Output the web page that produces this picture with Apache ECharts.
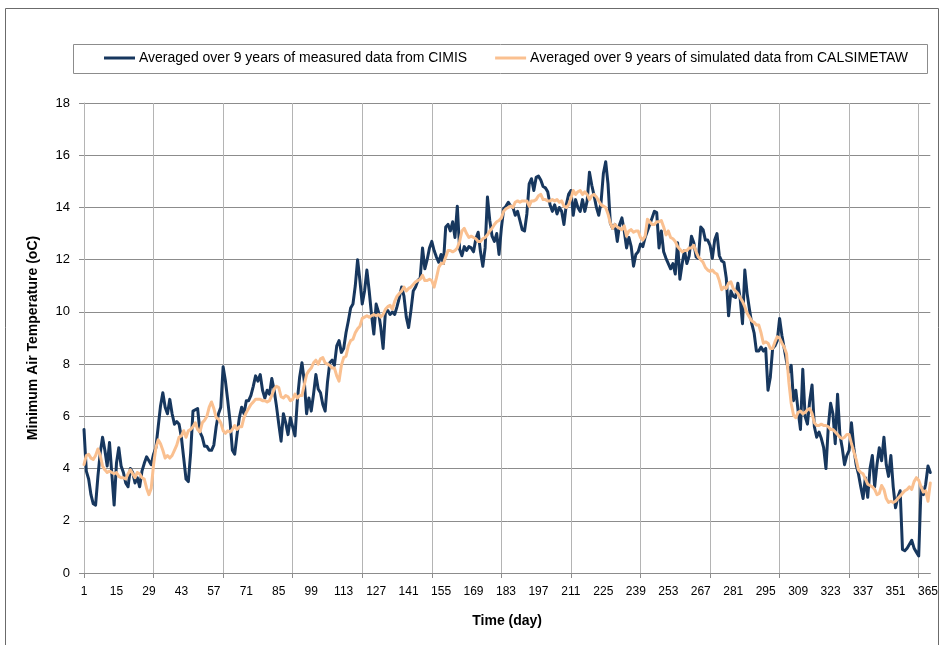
<!DOCTYPE html>
<html>
<head>
<meta charset="utf-8">
<script src="https://cdn.jsdelivr.net/npm/echarts@6/dist/echarts.min.js"></script>
<style>
  html, body { margin: 0; padding: 0; background: #fff; }
  #chart { width: 941px; height: 645px; }
</style>
</head>
<body>
<div id="chart"></div>
<script>
// colours
const NAVY = '#17375e';
const PEACH = '#fac090';
const H_GRID = '#8c8c8c';
const V_GRID = '#b4b4b4';
const SANS = "'Liberation Sans', Arial, sans-serif";

// day of year, 366 points (labels every 14 days up to 365)
const days = Array.from({ length: 366 }, (_, i) => String(i + 1));

// measured (CIMIS) in 60-day blocks
const cimis1 = [5.5,3.9,3.6,3.0,2.65,2.6,3.7,4.6,5.2,4.7, 4.1,5.0,3.8,2.6,4.2,4.8,4.1,3.85,3.45,3.3,
  4.0,3.85,3.45,3.65,3.3,3.9,4.2,4.45,4.3,4.15, 4.55,4.8,5.6,6.4,6.9,6.35,6.1,6.65,6.1,5.7,
  5.8,5.7,5.2,4.4,3.6,3.5,4.6,6.2,6.25,6.3, 5.4,5.2,4.85,4.85,4.7,4.7,4.9,5.6,6.1,6.35];
const cimis2 = [7.9,7.35,6.6,5.8,4.7,4.55,5.3,5.95,6.35,6.1, 6.6,6.6,6.8,7.15,7.55,7.35,7.6,7.0,6.7,7.0,
  6.85,7.45,7.0,6.4,5.7,5.05,6.1,5.75,5.3,5.95, 5.6,5.25,6.6,7.5,8.05,7.35,6.1,6.7,6.2,6.85,
  7.6,7.05,6.9,6.45,6.2,7.3,8.05,8.15,7.95,8.7, 8.9,8.45,8.6,9.2,9.65,10.15,10.3,11.0,12.0,11.2];
const cimis3 = [10.3,10.8,11.6,10.8,9.9,9.15,10.3,10.0,9.4,8.6, 10.0,10.05,9.9,10.0,9.9,10.2,10.55,10.95,10.6,9.8,
  9.4,10.05,10.8,10.95,11.2,11.3,12.45,11.65,12.0,12.45, 12.7,12.35,12.1,11.9,12.2,11.85,13.25,13.35,13.1,13.45,
  12.85,14.05,12.4,12.15,12.5,12.35,12.5,12.45,12.3,12.8, 13.05,12.3,11.75,12.45,14.4,13.5,12.9,12.7,13.0,12.2];
const cimis4 = [13.2,13.95,14.05,14.2,14.05,14.0,13.7,13.85,13.5,13.15, 13.1,13.75,14.9,15.1,14.65,15.15,15.2,15.05,14.8,14.75,
  14.6,14.1,13.85,14.1,13.75,14.0,13.85,13.35,14.1,14.5, 14.65,13.7,14.3,14.0,13.85,14.3,13.85,14.25,15.35,14.85,
  14.45,14.0,13.7,14.2,15.3,15.75,14.9,13.4,13.2,13.35, 12.7,13.35,13.6,13.1,12.45,12.85,12.5,11.75,12.2,12.3];
const cimis5 = [12.6,12.5,12.85,13.1,13.35,13.6,13.85,13.8,12.45,13.1, 12.3,12.05,11.85,11.65,11.85,11.45,12.65,11.25,11.85,12.35,
  11.85,12.15,12.9,12.65,12.1,12.05,13.25,13.15,12.75,12.75, 12.55,12.05,12.75,13.0,12.15,11.95,11.9,11.3,9.85,10.8,
  10.6,10.55,11.1,10.5,9.55,11.6,10.7,10.1,9.55,9.2, 8.5,8.5,8.65,8.5,8.6,7.0,7.5,8.6,8.7,8.9];
const cimis6 = [9.75,9.1,8.6,8.1,7.7,7.95,6.6,7.0,6.2,5.5, 7.8,6.0,5.7,6.6,7.2,5.6,5.2,5.4,5.15,4.8,
  4.0,5.6,6.5,6.1,4.95,6.85,5.3,4.8,4.15,4.5, 4.7,5.75,4.8,4.15,3.8,3.3,2.85,3.65,2.9,4.0,
  4.5,3.3,4.15,4.8,4.3,5.2,4.15,3.7,4.5,3.3, 2.5,2.9,3.15,0.9,0.85,0.95,1.1,1.25,0.95,0.8,
  0.65,3.3,3.0,3.4,4.1,3.85];

// simulated (CALSIMETAW)
const calsim1 = [4.15,4.5,4.55,4.4,4.35,4.5,4.75,4.5,4.1,3.95, 3.85,3.9,3.85,3.8,3.85,3.7,3.65,3.65,3.6,3.8,
  3.95,3.8,3.65,3.85,3.8,3.65,3.6,3.25,3.0,3.25, 4.15,4.8,5.1,4.95,4.7,4.4,4.5,4.4,4.5,4.7,
  4.9,5.2,5.25,5.45,5.2,5.45,5.5,5.6,5.75,5.5, 5.4,5.75,5.85,6.0,6.35,6.55,6.3,5.95,5.9,5.75];
const calsim2 = [5.45,5.35,5.45,5.4,5.5,5.65,5.5,5.6,5.6,5.95, 6.15,6.3,6.45,6.55,6.65,6.65,6.65,6.6,6.6,6.55,
  6.6,6.8,7.05,7.15,7.1,6.75,6.7,6.8,6.75,6.6, 6.65,6.85,6.7,6.8,6.8,7.2,7.6,7.75,7.85,8.05,
  8.15,8.0,8.2,8.25,8.05,8.0,7.95,7.85,7.85,7.55, 7.35,7.95,8.25,8.3,8.7,8.9,8.95,9.2,9.35,9.45];
const calsim3 = [9.75,9.8,9.85,9.8,9.85,9.9,9.85,9.9,9.8,9.9, 10.1,10.2,10.25,10.1,10.4,10.6,10.7,10.8,10.95,10.8,
  10.9,10.95,11.05,11.15,11.2,11.25,11.4,11.2,11.2,11.25, 11.2,10.95,11.3,11.7,11.85,11.85,12.1,12.35,12.35,12.3,
  12.35,12.45,12.7,13.1,13.2,13.0,12.85,12.9,12.85,12.8, 12.7,12.7,12.8,12.85,12.95,13.1,13.2,13.35,13.45,13.5];
const calsim4 = [13.6,13.85,13.95,14.0,14.05,14.0,14.2,14.25,14.2,14.25, 14.25,14.25,14.05,14.25,14.25,14.3,14.45,14.5,14.3,14.3,
  14.25,14.25,14.3,14.25,14.3,14.2,14.25,14.05,14.0,14.1, 14.35,14.65,14.5,14.6,14.65,14.5,14.6,14.5,14.3,14.45,
  14.5,14.4,14.25,14.1,14.05,14.0,13.75,13.4,13.2,13.35, 13.25,13.2,13.15,13.3,12.9,13.1,13.15,13.05,13.1,13.1];
const calsim5 = [12.85,12.75,12.9,13.55,13.45,13.35,13.35,13.45,13.45,13.5, 13.25,12.95,13.1,12.85,12.8,12.7,12.5,12.4,12.3,12.35,
  12.35,12.45,12.45,12.55,12.3,12.1,12.0,11.9,11.7,11.6, 11.55,11.6,11.5,11.45,11.2,10.85,10.95,10.9,11.1,11.15,
  10.9,10.8,10.7,10.55,10.4,10.2,9.95,9.8,9.65,9.6, 9.5,9.5,9.2,8.8,8.85,8.8,8.6,8.6,8.85,9.05];
const calsim6 = [9.0,8.8,8.65,8.4,7.3,6.5,6.05,5.95,6.15,6.2, 6.1,6.15,6.25,6.3,6.1,5.75,5.65,5.65,5.7,5.65,
  5.65,5.6,5.5,5.5,5.4,5.3,5.2,5.15,5.2,5.3, 5.3,4.95,4.65,4.35,3.95,3.85,3.8,3.6,3.4,3.35,
  3.3,3.2,3.0,3.05,3.35,3.2,2.85,2.7,2.75,2.7, 2.75,2.85,2.95,3.05,3.15,3.2,3.3,3.2,3.5,3.65,
  3.55,3.3,3.1,3.15,2.75,3.45];

const measured = [...cimis1, ...cimis2, ...cimis3, ...cimis4, ...cimis5, ...cimis6];
const simulated = [...calsim1, ...calsim2, ...calsim3, ...calsim4, ...calsim5, ...calsim6];

const seriesNames = [
  'Averaged over 9 years of measured data from CIMIS',
  'Averaged over 9 years of simulated data from CALSIMETAW'
];

const chart = echarts.init(document.getElementById('chart'), null, { renderer: 'canvas' });

const option = {
  backgroundColor: '#fff',
  animation: false,
  grid: { left: 84, right: 10, top: 103, bottom: 72 },
  graphic: [
    // outer chart frame
    {
      type: 'rect', silent: true, z: -1,
      shape: { x: 5.5, y: 8.5, width: 933, height: 660 },
      style: { fill: 'none', stroke: '#6b6b6b', lineWidth: 1 }
    },
    // legend frame
    {
      type: 'rect', silent: true,
      shape: { x: 73.5, y: 44.5, width: 854, height: 29 },
      style: { fill: 'none', stroke: '#8c8c8c', lineWidth: 1 }
    }
  ],
  legend: {
    orient: 'horizontal',
    left: 104,
    top: 51,
    width: 820,
    icon: 'rect',
    itemWidth: 31,
    itemHeight: 3,
    itemGap: 28,
    padding: 0,
    textStyle: { fontFamily: SANS, fontSize: 14, color: '#000', padding: [0, 0, 0, -1] },
    data: seriesNames
  },
  xAxis: {
    type: 'category',
    data: days,
    boundaryGap: false,
    name: 'Time (day)',
    nameLocation: 'middle',
    nameGap: 41,
    nameTextStyle: { fontFamily: SANS, fontWeight: 'bold', fontSize: 14, color: '#000' },
    axisLine: { lineStyle: { color: H_GRID } },
    axisTick: {
      length: 5,
      interval: (i) => i % 30 === 0,
      lineStyle: { color: H_GRID }
    },
    axisLabel: {
      interval: (i) => i % 14 === 0,
      margin: 13,
      fontFamily: SANS,
      fontSize: 12,
      color: '#000'
    },
    splitLine: {
      show: true,
      interval: (i) => i % 30 === 0,
      lineStyle: { color: V_GRID, width: 1 }
    }
  },
  yAxis: {
    type: 'value',
    min: 0,
    max: 18,
    interval: 2,
    name: 'Minimum Air Temperature (oC)',
    nameLocation: 'middle',
    nameGap: 44,
    nameTextStyle: { fontFamily: SANS, fontWeight: 'bold', fontSize: 14, color: '#000' },
    axisLine: { show: true, lineStyle: { color: V_GRID } },
    axisTick: { show: true, length: 5, lineStyle: { color: H_GRID } },
    axisLabel: { margin: 14, fontFamily: SANS, fontSize: 13, color: '#000' },
    splitLine: { lineStyle: { color: H_GRID, width: 1 } }
  },
  series: [
    {
      name: seriesNames[0],
      type: 'line',
      data: measured,
      symbol: 'none',
      lineStyle: { color: NAVY, width: 3, join: 'round', cap: 'round' },
      itemStyle: { color: NAVY },
      z: 2
    },
    {
      name: seriesNames[1],
      type: 'line',
      data: simulated,
      symbol: 'none',
      lineStyle: { color: PEACH, width: 3, join: 'round', cap: 'round' },
      itemStyle: { color: PEACH },
      z: 3
    }
  ]
};

chart.setOption(option);
</script>
</body>
</html>
